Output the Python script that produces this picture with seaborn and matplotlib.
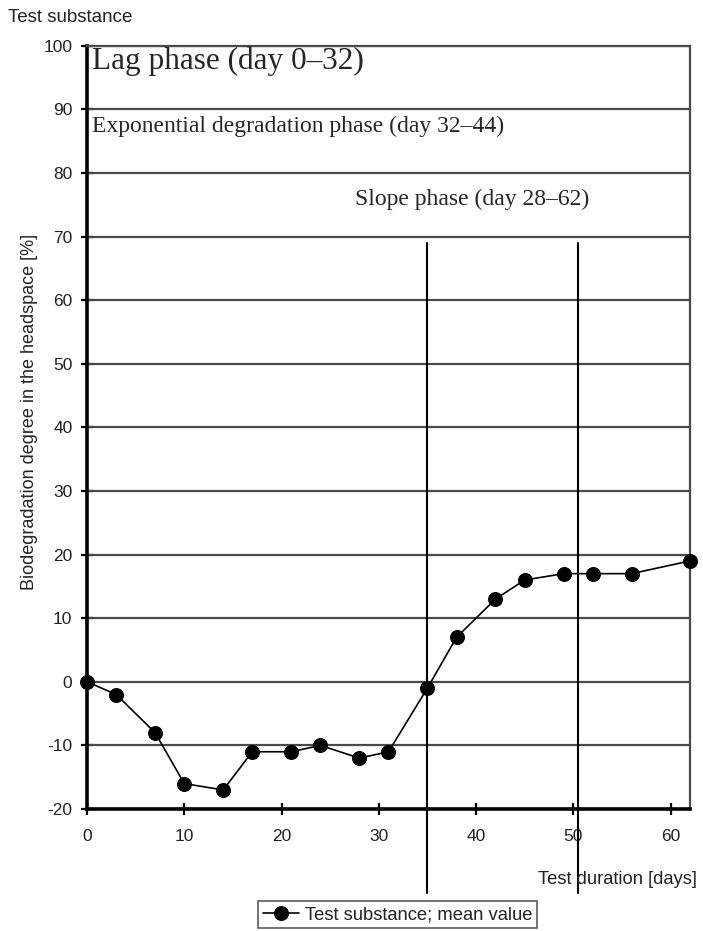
import matplotlib
matplotlib.use("Agg")
import matplotlib.pyplot as plt
import seaborn as sns
import pandas as pd

days = [0, 3, 7, 10, 14, 17, 21, 24, 28, 31, 35, 38, 42, 45, 49, 52, 56, 62]
degradation = [0, -2, -8, -16, -17, -11, -11, -10, -12, -11, -1, 7, 13, 16, 17, 17, 17, 19]
series_label = "Test substance; mean value"
x_ticks = [0, 10, 20, 30, 40, 50, 60]
y_ticks = [-20, -10, 0, 10, 20, 30, 40, 50, 60, 70, 80, 90, 100]
phase_lines_x = [35, 50.5]

sns.set_style("white")
plt.rcParams['font.family'] = ['Liberation Sans', 'DejaVu Sans']
plt.rcParams['axes.unicode_minus'] = False

df = pd.DataFrame({"day": days, "value": degradation})

fig = plt.figure(figsize=(7.03, 9.31), dpi=100)
ax = fig.add_axes([87/703, 1 - 809/931, (690-87)/703, (809-45.7)/931])

ax.set_xlim(0, 62)
ax.set_ylim(-20, 100)

for yv in y_ticks:
    ax.axhline(yv, color="#4a4a4a", lw=1.6, zorder=1)

sns.lineplot(data=df, x="day", y="value", ax=ax, color="black", lw=1.2,
             marker="o", markersize=10, markeredgecolor="black",
             markerfacecolor="black", label=series_label, zorder=5, clip_on=False)

for xv in phase_lines_x:
    ax.plot([xv, xv], [69, -33.2], color="black", lw=1.5, clip_on=False, zorder=6)

ax.set_xticks(x_ticks)
ax.set_yticks(y_ticks)
ax.tick_params(axis="both", bottom=True, left=True, direction="inout", length=9, width=1.6,
               color="black", labelsize=12.5, labelcolor="#222222")
ax.tick_params(axis="x", pad=10)
ax.tick_params(axis="y", pad=6)

for s in ["left", "bottom"]:
    ax.spines[s].set_color("black")
    ax.spines[s].set_linewidth(2.6)
for s in ["top", "right"]:
    ax.spines[s].set_color("#4a4a4a")
    ax.spines[s].set_linewidth(1.6)

ax.set_xlabel("")
ax.set_ylabel("Biodegradation degree in the headspace [%]", fontsize=13, color="#222222")
ax.yaxis.set_label_coords(-0.0954, 0.52)
ax.yaxis.label.set_va("center")

fig.text(8/703, 1 - 18/931, "Test substance", fontsize=13.5, color="#222222", va="center", ha="left")
fig.text(697/703, 1 - 880/931, "Test duration [days]", fontsize=13.2, color="#222222", va="center", ha="right")

serif = ['Liberation Serif', 'DejaVu Serif']
ax.text(0.5, 99.9, "Lag phase (day 0\u201332)", fontsize=22.5, family=serif, va="top", ha="left", zorder=7)
ax.text(0.5, 87.3, "Exponential degradation phase (day 32\u201344)", fontsize=17, family=serif,
        va="center", ha="left", zorder=7)
ax.text(27.6, 75.8, "Slope phase (day 28\u201362)", fontsize=17, family=serif,
        va="center", ha="left", zorder=7)

handles = ax.get_legend_handles_labels()[0]
ax.get_legend().remove()
leg = fig.legend(handles=handles, labels=[series_label],
                 loc="center", bbox_to_anchor=(397.5/703, 1 - 914.5/931),
                 frameon=True, fontsize=13.2, handlelength=2.0, borderpad=0.25, fancybox=False,
                 handletextpad=0.3)
leg.get_frame().set_edgecolor("#333333")
leg.get_frame().set_linewidth(1.2)
for t in leg.get_texts():
    t.set_color("#222222")

fig.savefig("out.png", dpi=100, facecolor="white")
